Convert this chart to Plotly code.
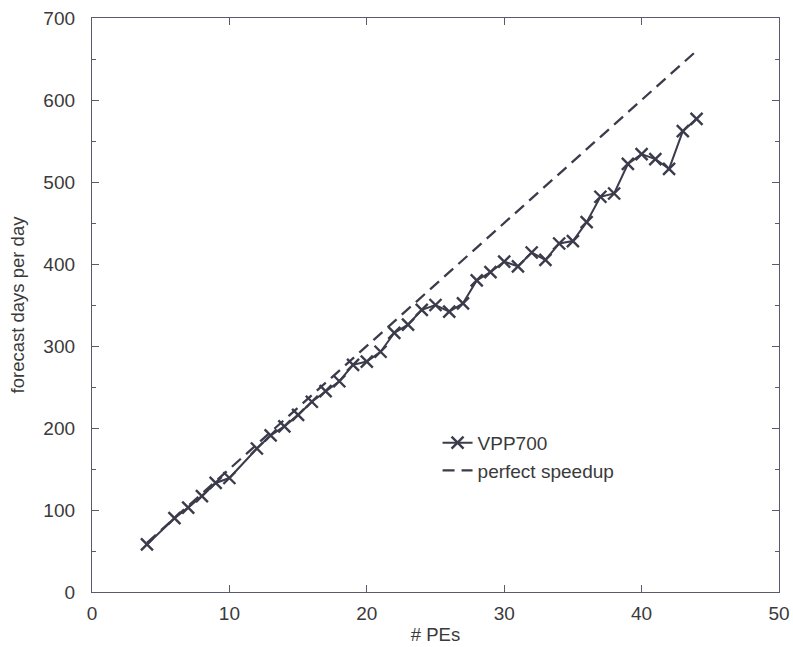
import plotly.graph_objects as go

# Data
pes = [4, 6, 7, 8, 9, 10, 12, 13, 14, 15, 16, 17, 18, 19, 20, 21, 22, 23, 24, 25,
       26, 27, 28, 29, 30, 31, 32, 33, 34, 35, 36, 37, 38, 39, 40, 41, 42, 43, 44]
vpp700 = [58, 90, 103, 117, 133, 139, 175, 191, 202, 216, 232, 245, 257, 277, 281, 293,
          316, 326, 344, 350, 342, 352, 380, 390, 403, 397, 414, 405, 425, 428, 451,
          482, 486, 522, 534, 528, 516, 562, 577]
perfect_pes = [4, 44]
perfect_speedup = [60, 660]

x_ticks = [0, 10, 20, 30, 40, 50]
y_ticks = [0, 100, 200, 300, 400, 500, 600, 700]

ink = "#3b3b4c"
axis_col = "#5a5a6e"
font_family = "Liberation Sans, Arial, sans-serif"

fig = go.Figure()
fig.add_trace(go.Scatter(
    x=pes, y=vpp700, mode="lines+markers", name="VPP700",
    line=dict(color=ink, width=2),
    marker=dict(symbol="x-thin", size=12, line=dict(color=ink, width=2.4), color=ink),
))
fig.add_trace(go.Scatter(
    x=perfect_pes, y=perfect_speedup, mode="lines", name="perfect speedup",
    line=dict(color=ink, width=2.3, dash="12px,7px"),
))

axis_common = dict(
    showline=True, linecolor=axis_col, linewidth=1.3, mirror="ticks",
    ticks="inside", ticklen=7, tickcolor=axis_col, tickwidth=1,
    showgrid=False, zeroline=False, automargin=False,
    tickfont=dict(family=font_family, size=19, color="#3a3a3a"),
    title_font=dict(family=font_family, size=18.5, color="#3a3a3a"),
)

fig.update_xaxes(range=[0, 50], tickvals=x_ticks, title_text="# PEs",
                 title_standoff=5, ticklabelstandoff=4, **axis_common)
fig.update_yaxes(range=[0, 700], tickvals=y_ticks, title_text="forecast days per day",
                 title_standoff=13, ticklabelstandoff=12,
                 minor=dict(ticks="inside", ticklen=4, dtick=50, tickcolor=axis_col,
                            showgrid=False),
                 **axis_common)

fig.update_layout(
    width=793, height=647,
    margin=dict(l=92, r=14, t=18, b=55),
    paper_bgcolor="white", plot_bgcolor="white",
    font=dict(family=font_family, color="#3a3a3a"),
    showlegend=True,
    legend=dict(x=0.503, y=0.293, xanchor="left", yanchor="top",
                bgcolor="rgba(0,0,0,0)",
                font=dict(family=font_family, size=19, color="#3a3a3a"),
                tracegroupgap=0),
)

fig.write_html(
    "out.html",
    config={"displayModeBar": False},
    post_script="document.body.style.margin='0';document.body.style.overflow='hidden';",
)
